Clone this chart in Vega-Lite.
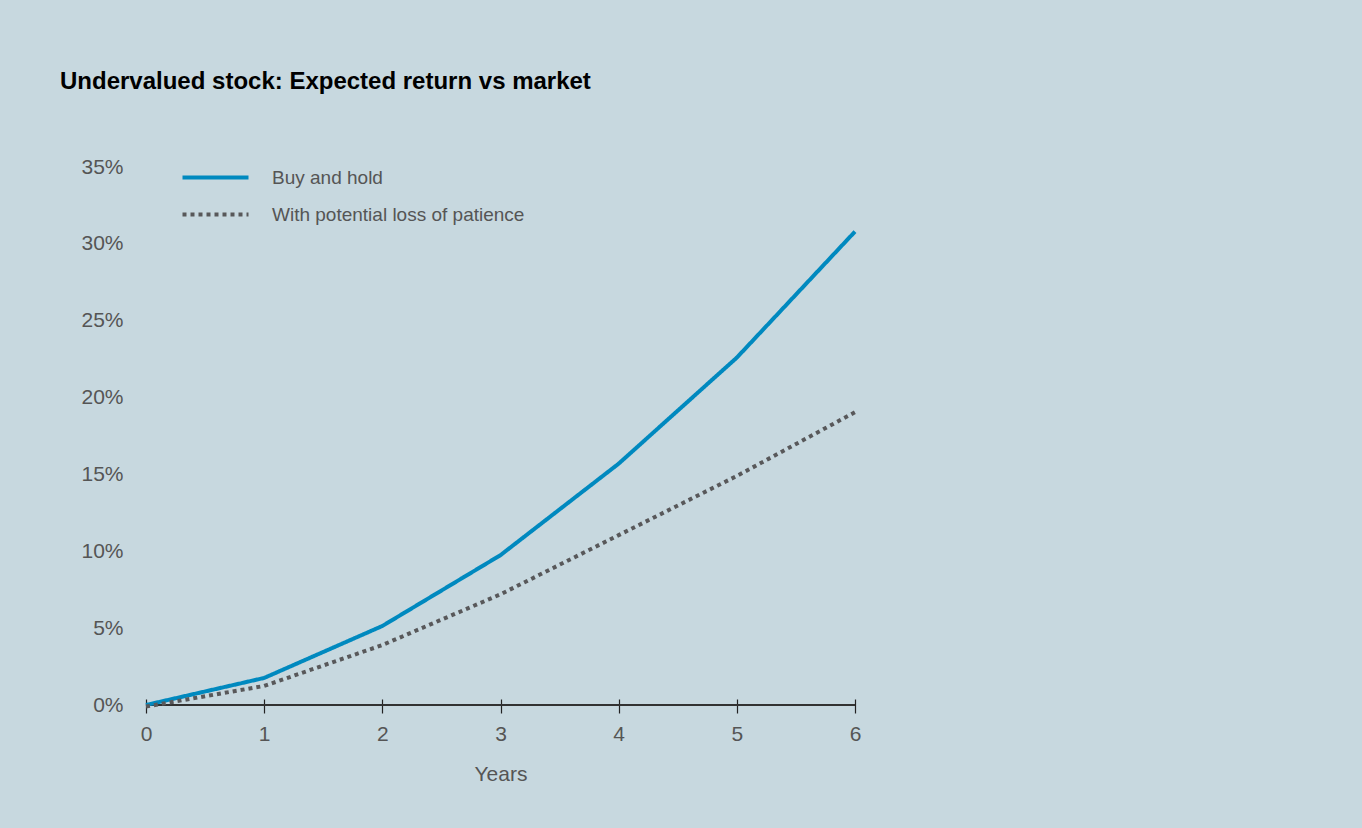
{
  "$schema": "https://vega.github.io/schema/vega-lite/v6.json",
  "width": 709,
  "height": 538,
  "autosize": {"type": "none"},
  "padding": {"left": 146, "top": 167, "right": 507, "bottom": 123},
  "background": "#c7d8df",
  "title": {
    "text": "Undervalued stock: Expected return vs market",
    "anchor": "start",
    "frame": "group",
    "dx": -86,
    "offset": 62,
    "font": "Liberation Sans",
    "fontSize": 24,
    "fontWeight": "bold",
    "color": "#000000"
  },
  "config": {
    "view": {"stroke": null},
    "font": "Liberation Sans"
  },
  "data": {
    "values": [
      {"year": 0, "value": 0.0, "series": "Buy and hold"},
      {"year": 1, "value": 0.0176, "series": "Buy and hold"},
      {"year": 2, "value": 0.0514, "series": "Buy and hold"},
      {"year": 3, "value": 0.0975, "series": "Buy and hold"},
      {"year": 4, "value": 0.157, "series": "Buy and hold"},
      {"year": 5, "value": 0.226, "series": "Buy and hold"},
      {"year": 6, "value": 0.308, "series": "Buy and hold"},
      {"year": 0, "value": -0.001, "series": "With potential loss of patience"},
      {"year": 1, "value": 0.0124, "series": "With potential loss of patience"},
      {"year": 2, "value": 0.039, "series": "With potential loss of patience"},
      {"year": 3, "value": 0.072, "series": "With potential loss of patience"},
      {"year": 4, "value": 0.1105, "series": "With potential loss of patience"},
      {"year": 5, "value": 0.149, "series": "With potential loss of patience"},
      {"year": 6, "value": 0.1905, "series": "With potential loss of patience"}
    ]
  },
  "layer": [
    {
      "mark": {"type": "rule", "color": "#333333", "strokeWidth": 1.5},
      "encoding": {"y": {"datum": 0}}
    },
    {
      "mark": {"type": "line", "strokeWidth": 4, "clip": false},
      "encoding": {
        "x": {
          "field": "year",
          "type": "quantitative",
          "scale": {"domain": [0, 6], "nice": false, "zero": false},
          "axis": {
            "title": "Years",
            "titleFont": "Liberation Sans",
            "titleFontSize": 21,
            "titleFontWeight": "normal",
            "titleColor": "#555555",
            "titlePadding": 19,
            "values": [0, 1, 2, 3, 4, 5, 6],
            "format": "d",
            "domain": false,
            "grid": false,
            "offset": -6,
            "ticks": true,
            "tickSize": 14,
            "tickColor": "#222222",
            "tickWidth": 1.2,
            "labelFlush": false,
            "labelFont": "Liberation Sans",
            "labelFontSize": 21,
            "labelColor": "#555555",
            "labelPadding": 10
          }
        },
        "y": {
          "field": "value",
          "type": "quantitative",
          "scale": {"domain": [0, 0.35], "nice": false},
          "axis": {
            "title": null,
            "values": [0, 0.05, 0.1, 0.15, 0.2, 0.25, 0.3, 0.35],
            "format": ".0%",
            "domain": false,
            "ticks": false,
            "grid": false,
            "labelFlush": false,
            "labelFont": "Liberation Sans",
            "labelFontSize": 21,
            "labelColor": "#555555",
            "labelPadding": 23
          }
        },
        "color": {
          "field": "series",
          "type": "nominal",
          "scale": {
            "domain": ["Buy and hold", "With potential loss of patience"],
            "range": ["#0089bf", "#58585a"]
          },
          "legend": {
            "title": null,
            "orient": "none",
            "legendX": 51,
            "legendY": -8,
            "symbolType": "M-2,0H2",
            "symbolSize": 1089,
            "symbolStrokeWidth": 4,
            "labelFont": "Liberation Sans",
            "labelFontSize": 19,
            "labelColor": "#555555",
            "labelOffset": 38,
            "labelLimit": 0,
            "rowPadding": 8
          }
        },
        "strokeDash": {
          "field": "series",
          "type": "nominal",
          "scale": {
            "domain": ["Buy and hold", "With potential loss of patience"],
            "range": [[1, 0], [4, 4]]
          },
          "legend": {
            "title": null,
            "orient": "none",
            "legendX": 51,
            "legendY": -8,
            "symbolType": "M-2,0H2",
            "symbolSize": 1089,
            "symbolStrokeWidth": 4,
            "labelFont": "Liberation Sans",
            "labelFontSize": 19,
            "labelColor": "#555555",
            "labelOffset": 38,
            "labelLimit": 0,
            "rowPadding": 8
          }
        }
      }
    }
  ]
}
